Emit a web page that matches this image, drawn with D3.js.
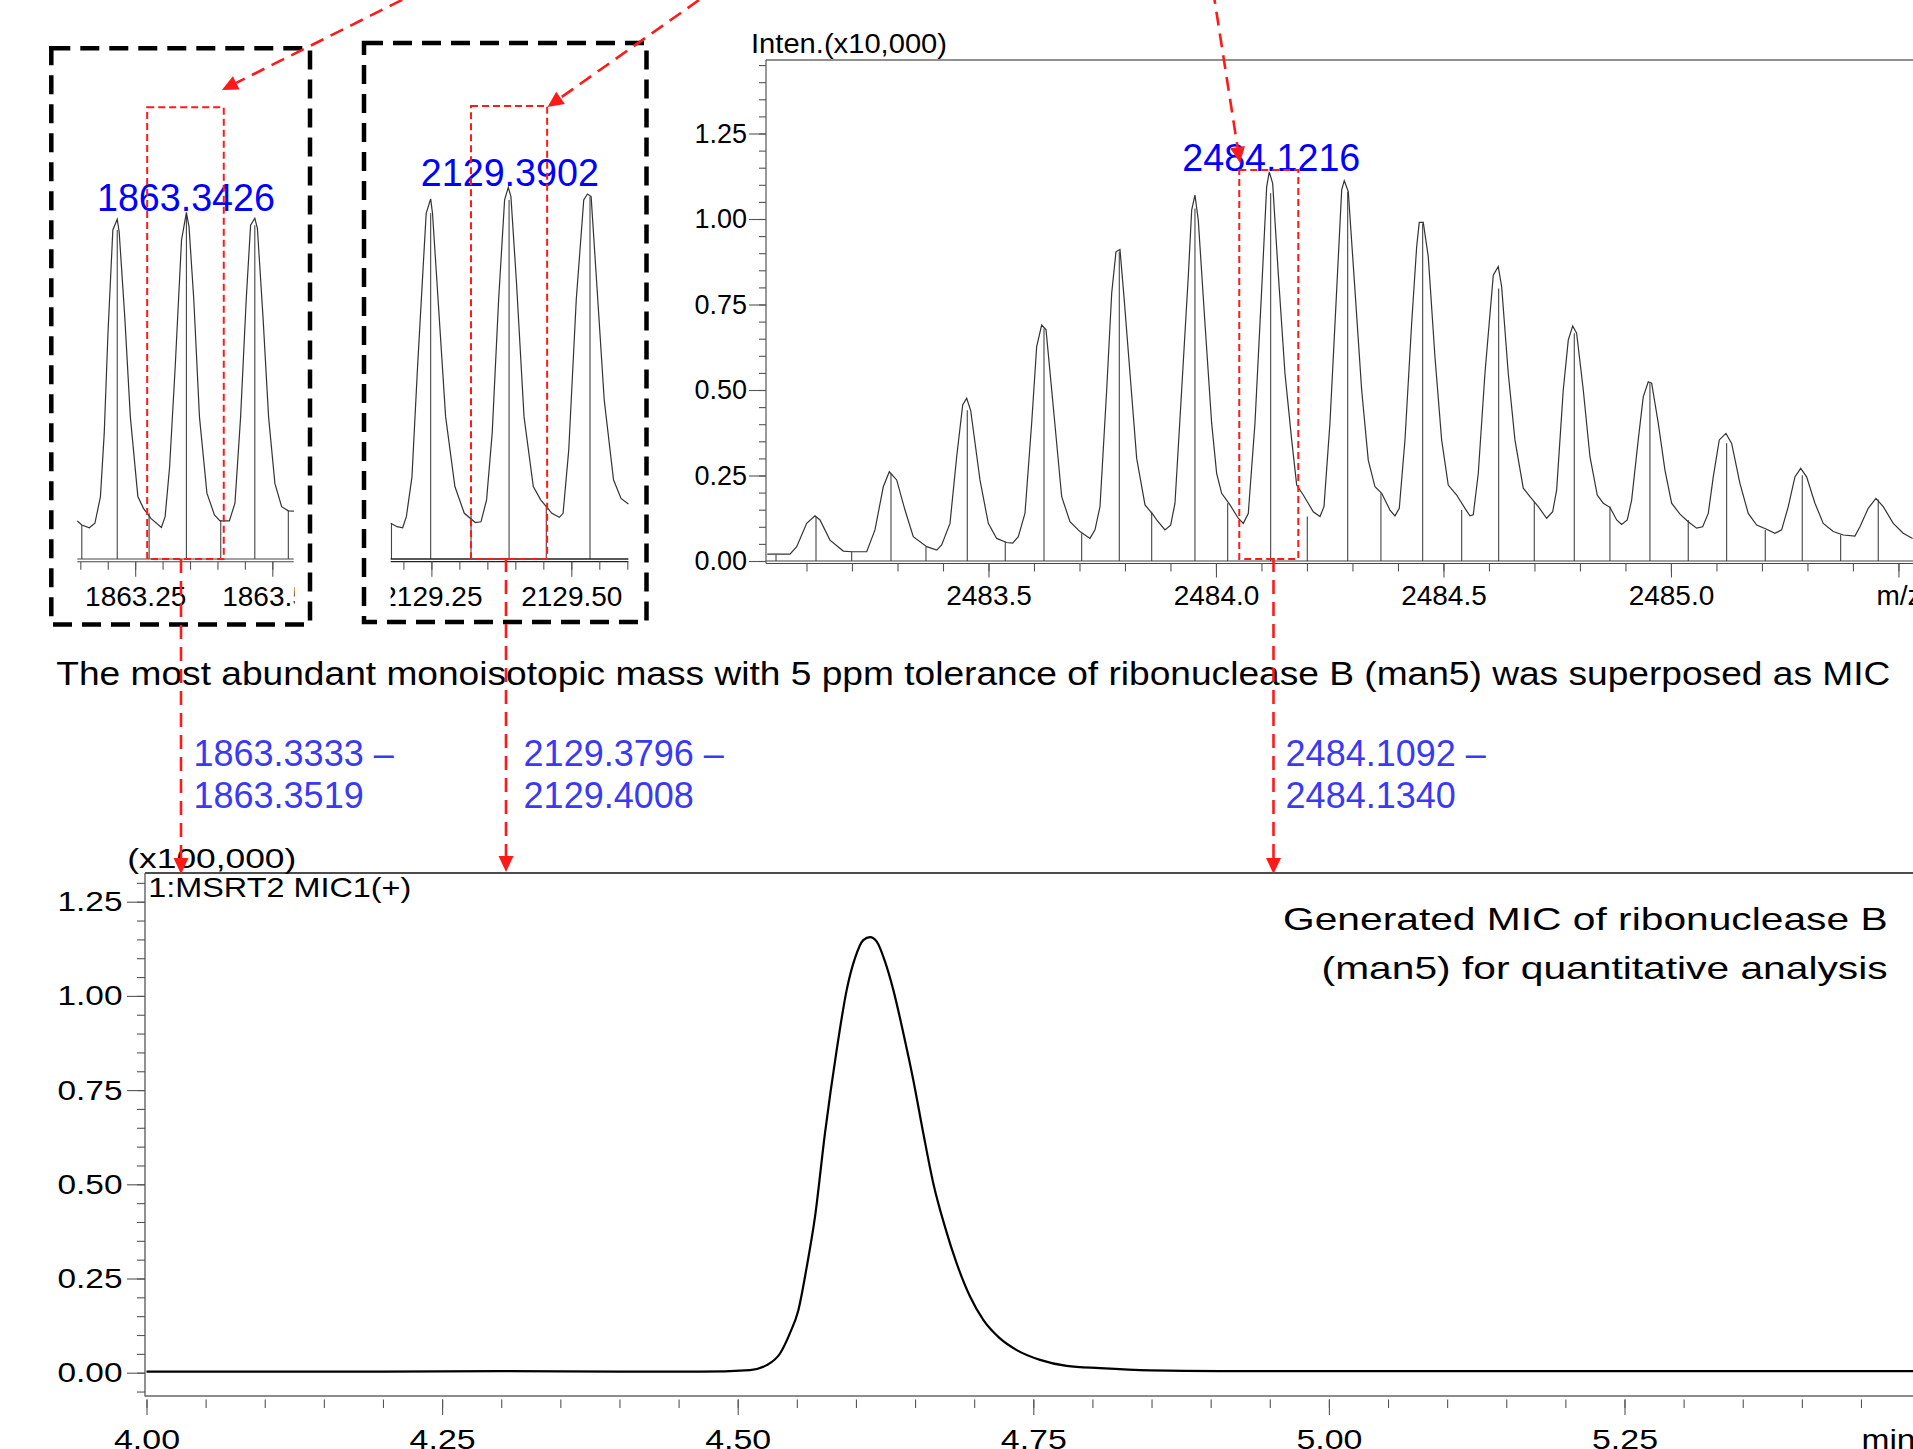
<!DOCTYPE html>
<html>
<head>
<meta charset="utf-8">
<script src="https://cdn.jsdelivr.net/npm/d3@7"></script>
<style>
  body { margin: 0; background: #fff; overflow: hidden; }
  svg { display: block; }
</style>
</head>
<body>
<div id="container"></div>
<script>
/* DATA */
// panel A : m/z 1863 region, relative intensity (%)
const profileA = [[1863.1445,11.0],[1863.1527,9.8],[1863.1664,9.0],[1863.1766,10.3],[1863.1867,18.0],[1863.1936,36.3],[1863.2004,65.1],[1863.2093,94.9],[1863.2173,98.0],[1863.2208,94.4],[1863.2310,69.9],[1863.2412,41.0],[1863.2549,18.0],[1863.2651,14.6],[1863.2786,11.7],[1863.2978,9.1],[1863.3046,12.2],[1863.3128,26.6],[1863.3230,55.5],[1863.3345,92.0],[1863.3434,100],[1863.3482,95.8],[1863.3569,74.7],[1863.3672,41.0],[1863.3808,19.0],[1863.3945,12.7],[1863.4047,11.0],[1863.4217,11.0],[1863.4319,16.1],[1863.4422,41.0],[1863.4524,74.7],[1863.4604,96.3],[1863.4681,98.3],[1863.4728,95.4],[1863.4830,69.9],[1863.4932,41.0],[1863.5047,21.8],[1863.5170,15.1],[1863.5292,13.9],[1863.5394,13.8]];
const sticksA = [[1863.1527,9.8],[1863.2173,94.9],[1863.2754,13.2],[1863.3434,99.2],[1863.4060,11.2],[1863.4681,96.3],[1863.5292,13.9]];

// panel B : m/z 2129 region
const profileB = [[2129.1773,9.6],[2129.1887,8.7],[2129.1987,8.4],[2129.2053,11.4],[2129.2153,22.1],[2129.2253,51.7],[2129.2353,78.6],[2129.2407,93.0],[2129.2487,96.9],[2129.2520,93.0],[2129.2620,69.7],[2129.2754,38.3],[2129.2920,19.5],[2129.3088,12.3],[2129.3286,9.8],[2129.3386,10.0],[2129.3486,15.9],[2129.3586,33.8],[2129.3701,69.7],[2129.3808,96.6],[2129.3874,100],[2129.3921,97.5],[2129.4021,74.2],[2129.4155,38.3],[2129.4321,19.5],[2129.4453,15.9],[2129.4653,12.3],[2129.4787,11.2],[2129.4853,12.3],[2129.4954,29.3],[2129.5088,69.7],[2129.5222,96.6],[2129.5288,98.2],[2129.5354,97.5],[2129.5454,74.2],[2129.5588,42.8],[2129.5754,21.3],[2129.5888,16.3],[2129.6020,14.8]];
const sticksB = [[2129.1787,9.6],[2129.2487,93.0],[2129.3208,11.8],[2129.3888,96.6],[2129.4553,14.5],[2129.5334,97.5]];

// panel C : m/z 2484 region, Inten. (x10,000)
const profileC = [[2483.0138,0.020],[2483.0637,0.020],[2483.0785,0.042],[2483.1004,0.110],[2483.1187,0.132],[2483.1297,0.120],[2483.1516,0.061],[2483.1809,0.029],[2483.1993,0.027],[2483.2323,0.027],[2483.2505,0.091],[2483.2688,0.217],[2483.2820,0.261],[2483.2982,0.237],[2483.3165,0.149],[2483.3347,0.071],[2483.3642,0.042],[2483.3862,0.032],[2483.3971,0.047],[2483.4154,0.110],[2483.4301,0.305],[2483.4433,0.456],[2483.4521,0.476],[2483.4609,0.440],[2483.4813,0.237],[2483.4996,0.110],[2483.5180,0.066],[2483.5400,0.054],[2483.5532,0.052],[2483.5655,0.071],[2483.5802,0.139],[2483.5949,0.403],[2483.6059,0.627],[2483.6169,0.690],[2483.6264,0.677],[2483.6424,0.451],[2483.6609,0.188],[2483.6791,0.115],[2483.7011,0.086],[2483.7231,0.066],[2483.7341,0.091],[2483.7451,0.159],[2483.7598,0.500],[2483.7708,0.783],[2483.7802,0.904],[2483.7890,0.911],[2483.7978,0.773],[2483.8110,0.549],[2483.8257,0.300],[2483.8440,0.164],[2483.8622,0.135],[2483.8697,0.120],[2483.8879,0.091],[2483.9004,0.105],[2483.9099,0.169],[2483.9246,0.500],[2483.9391,0.831],[2483.9466,1.026],[2483.9538,1.070],[2483.9611,0.997],[2483.9758,0.695],[2483.9905,0.403],[2484.0015,0.256],[2484.0125,0.198],[2484.0308,0.164],[2484.0490,0.125],[2484.0600,0.110],[2484.0710,0.139],[2484.0857,0.403],[2484.1004,0.792],[2484.1114,1.094],[2484.1171,1.138],[2484.1246,1.104],[2484.1369,0.841],[2484.1516,0.549],[2484.1664,0.354],[2484.1774,0.222],[2484.1919,0.193],[2484.2138,0.144],[2484.2286,0.130],[2484.2374,0.159],[2484.2505,0.403],[2484.2653,0.792],[2484.2763,1.085],[2484.2820,1.112],[2484.2908,1.080],[2484.3055,0.792],[2484.3202,0.500],[2484.3347,0.295],[2484.3495,0.217],[2484.3642,0.198],[2484.3824,0.149],[2484.3934,0.132],[2484.4029,0.154],[2484.4154,0.354],[2484.4301,0.695],[2484.4411,0.919],[2484.4468,0.990],[2484.4556,0.990],[2484.4666,0.890],[2484.4813,0.597],[2484.4960,0.354],[2484.5105,0.222],[2484.5290,0.193],[2484.5473,0.154],[2484.5582,0.132],[2484.5655,0.135],[2484.5765,0.256],[2484.5912,0.549],[2484.6095,0.836],[2484.6204,0.861],[2484.6279,0.802],[2484.6424,0.549],[2484.6571,0.354],[2484.6754,0.213],[2484.6901,0.188],[2484.7084,0.159],[2484.7268,0.125],[2484.7400,0.144],[2484.7488,0.208],[2484.7633,0.500],[2484.7743,0.646],[2484.7840,0.687],[2484.7927,0.666],[2484.8073,0.500],[2484.8220,0.305],[2484.8380,0.193],[2484.8512,0.169],[2484.8659,0.157],[2484.8807,0.120],[2484.8916,0.107],[2484.9040,0.120],[2484.9136,0.178],[2484.9281,0.354],[2484.9391,0.480],[2484.9501,0.524],[2484.9576,0.520],[2484.9721,0.403],[2484.9868,0.266],[2485.0015,0.169],[2485.0198,0.137],[2485.0380,0.115],[2485.0565,0.096],[2485.0697,0.100],[2485.0820,0.139],[2485.0930,0.246],[2485.1062,0.354],[2485.1209,0.373],[2485.1334,0.344],[2485.1516,0.227],[2485.1699,0.139],[2485.1884,0.105],[2485.2103,0.093],[2485.2286,0.081],[2485.2433,0.091],[2485.2578,0.159],[2485.2725,0.246],[2485.2851,0.271],[2485.2982,0.246],[2485.3165,0.169],[2485.3347,0.110],[2485.3567,0.086],[2485.3787,0.076],[2485.4044,0.073],[2485.4154,0.100],[2485.4336,0.154],[2485.4505,0.183],[2485.4666,0.159],[2485.4886,0.110],[2485.5105,0.081],[2485.5312,0.066]];
const sticksC = [[2483.0330,0.018],[2483.1209,0.130],[2483.1993,0.027],[2483.2857,0.256],[2483.3626,0.042],[2483.4534,0.441],[2483.5369,0.056],[2483.6220,0.680],[2483.7048,0.081],[2483.7875,0.904],[2483.8587,0.144],[2483.9538,1.031],[2484.0257,0.169],[2484.1202,1.075],[2484.2007,0.130],[2484.2895,1.080],[2484.3626,0.198],[2484.4543,0.987],[2484.5400,0.149],[2484.6213,0.797],[2484.6996,0.173],[2484.7875,0.666],[2484.8659,0.159],[2484.9538,0.520],[2485.0380,0.120],[2485.1224,0.344],[2485.2073,0.091],[2485.2886,0.251],[2485.3730,0.076],[2485.4556,0.180]];

// generated MIC chromatogram : time (min), intensity (x100,000)
const micTrace = [[4.00,0.003],[4.10,0.003],[4.20,0.003],[4.30,0.004],[4.40,0.003],[4.4681,0.003],[4.5104,0.007],[4.5245,0.020],[4.5358,0.051],[4.5442,0.105],[4.5513,0.166],[4.5584,0.281],[4.5654,0.414],[4.5738,0.635],[4.5837,0.856],[4.5922,1.016],[4.5992,1.100],[4.6062,1.148],[4.6119,1.156],[4.6176,1.144],[4.6246,1.091],[4.6316,1.016],[4.6401,0.901],[4.6485,0.777],[4.6570,0.635],[4.6654,0.503],[4.6753,0.387],[4.6852,0.290],[4.6965,0.202],[4.7077,0.140],[4.7218,0.091],[4.7360,0.060],[4.7557,0.034],[4.7782,0.018],[4.8064,0.012],[4.8487,0.006],[4.9079,0.004],[5.00,0.004],[5.25,0.004],[5.50,0.004]];

// labels
const peakLabels = [1863.3426, 2129.3902, 2484.1216];
const rangeLabels = [["1863.3333 –", "1863.3519"], ["2129.3796 –", "2129.4008"], ["2484.1092 –", "2484.1340"]];
const ticksA = [1863.25, 1863.50];
const ticksB = [2129.25, 2129.50];
const ticksC = [2483.5, 2484.0, 2484.5, 2485.0, 2485.5];
const tickLabelsC = ["2483.5", "2484.0", "2484.5", "2485.0", "m/z"];
const yTicksC = [0, 0.25, 0.50, 0.75, 1.00, 1.25];
const xTicksMic = [4.00, 4.25, 4.50, 4.75, 5.00, 5.25];
const yTicksMic = [0, 0.25, 0.50, 0.75, 1.00, 1.25];

/* CONSTANTS */
const width = 1913;
const height = 1449;
const FONT = '"Liberation Sans", Arial, Helvetica, sans-serif';
const RED = "#ff1a1a";

const svg = d3.select("#container")
  .append("svg")
  .attr("width", width)
  .attr("height", height)
  .attr("font-family", FONT);

/* SCALES */
const xA = d3.scaleLinear().domain([1863.1445, 1863.539]).range([77.3, 293.7]);
const yA = d3.scaleLinear().domain([0, 100]).range([559, 212.3]);
const xB = d3.scaleLinear().domain([2129.1773, 2129.602]).range([390.7, 628.4]);
const yB = d3.scaleLinear().domain([0, 100]).range([559, 187.3]);
const xC = d3.scaleLinear().domain([2483.011, 2485.532]).range([766, 1913]);
const yC = d3.scaleLinear().domain([0, 1.25]).range([561, 133.5]);
const xM = d3.scaleLinear().domain([4, 5.5]).range([146.5, 1920.1]);
const yM = d3.scaleLinear().domain([0, 1.25]).range([1372.7, 901.7]);

// axis helper: minor + major ticks drawn by two d3 axes
function bottomAxis(scale, y, major, minor, fmt, o) {
  const gMin = svg.append("g").attr("transform", `translate(0,${y})`)
    .call(d3.axisBottom(scale).tickValues(minor).tickSize(o.minor).tickFormat(""));
  const gMaj = svg.append("g").attr("transform", `translate(0,${y})`)
    .call(d3.axisBottom(scale).tickValues(major).tickSize(o.major).tickPadding(o.pad).tickFormat(fmt));
  [gMin, gMaj].forEach(g => {
    g.select(".domain").remove();
    g.selectAll("line").attr("stroke", "#555").attr("stroke-width", 1.1);
  });
  gMaj.attr("font-size", o.size).attr("font-family", FONT);
  gMaj.selectAll("text").attr("fill", "#000");
  if (o.clip) gMaj.attr("clip-path", `url(#${o.clip})`);
  return gMaj;
}

function leftAxis(scale, x, major, minor, fmt, o) {
  const gMin = svg.append("g").attr("transform", `translate(${x},0)`)
    .call(d3.axisLeft(scale).tickValues(minor).tickSize(o.minor).tickFormat(""));
  const gMaj = svg.append("g").attr("transform", `translate(${x},0)`)
    .call(d3.axisLeft(scale).tickValues(major).tickSize(o.major).tickPadding(o.pad).tickFormat(fmt));
  [gMin, gMaj].forEach(g => {
    g.select(".domain").remove();
    g.selectAll("line").attr("stroke", "#555").attr("stroke-width", 1.1);
  });
  gMaj.attr("font-size", o.size).attr("font-family", FONT);
  gMaj.selectAll("text").attr("fill", "#000");
  return gMaj;
}

function hline(x1, x2, y, color, w) {
  svg.append("line").attr("x1", x1).attr("x2", x2).attr("y1", y).attr("y2", y)
    .attr("stroke", color).attr("stroke-width", w);
}
function vline(x, y1, y2, color, w) {
  svg.append("line").attr("x1", x).attr("x2", x).attr("y1", y1).attr("y2", y2)
    .attr("stroke", color).attr("stroke-width", w);
}

// clip paths for the small panels' tick labels (in the axis group's own coordinates)
const defs = svg.append("defs");
defs.append("clipPath").attr("id", "clipA").append("rect")
  .attr("x", xA.range()[0]).attr("y", -30).attr("width", xA.range()[1] - xA.range()[0] + 1).attr("height", 90);
defs.append("clipPath").attr("id", "clipB").append("rect")
  .attr("x", xB.range()[0]).attr("y", -30).attr("width", xB.range()[1] - xB.range()[0]).attr("height", 90);

/* SPECTRUM PANELS */
function spectrum(profile, sticks, x, y) {
  svg.append("g").selectAll("line")
    .data(sticks)
    .join("line")
    .attr("x1", d => x(d[0])).attr("x2", d => x(d[0]))
    .attr("y1", y(0)).attr("y2", d => y(d[1]))
    .attr("stroke", "#444").attr("stroke-width", 1.1);

  svg.append("path")
    .datum(profile)
    .attr("fill", "none")
    .attr("stroke", "#333")
    .attr("stroke-width", 1.2)
    .attr("d", d3.line().x(d => x(d[0])).y(d => y(d[1])));
}

// panel A
spectrum(profileA, sticksA, xA, yA);
hline(xA.range()[0], xA.range()[1], yA(0), "#444", 1.1);
hline(xA.range()[0], xA.range()[1], 561.7, "#444", 1.1);
bottomAxis(xA, 561.7, ticksA, d3.range(1863.15, 1863.52, 0.05), d3.format(".2f"),
  { minor: 8, major: 15, pad: 9, size: 28, clip: "clipA" });

// panel B
spectrum(profileB, sticksB, xB, yB);
hline(xB.range()[0], xB.range()[1], yB(0), "#222", 1.3);
hline(xB.range()[0], xB.range()[1], 561.7, "#222", 1.3);
bottomAxis(xB, 561.7, ticksB, d3.range(2129.20, 2129.62, 0.05), d3.format(".2f"),
  { minor: 8, major: 15, pad: 9, size: 28, clip: "clipB" });

// panel C
spectrum(profileC, sticksC, xC, yC);
hline(766, 1913, yC(0), "#444", 1.1);
hline(766, 1913, 563.5, "#444", 1.1);
hline(766, 1913, 60, "#222", 1.2);
vline(766, 60, 563.5, "#555", 1.2);
bottomAxis(xC, 563.5, ticksC, d3.range(2483.1, 2485.55, 0.1), (d, i) => tickLabelsC[i],
  { minor: 8, major: 14, pad: 8, size: 28 });
leftAxis(yC, 766, yTicksC, d3.range(0, 1.47, 0.05), d3.format(".2f"),
  { minor: 7, major: 17, pad: 2, size: 27 });
svg.append("text")
  .attr("x", 751).attr("y", 53)
  .attr("font-size", 27)
  .attr("textLength", 196).attr("lengthAdjust", "spacingAndGlyphs")
  .text("Inten.(x10,000)");

/* MIC PANEL */
hline(145, 1913, 873, "#111", 1.3);
vline(145, 873, 1396.5, "#555", 1.3);
hline(145, 1913, 1396, "#666", 1.3);

bottomAxis(xM, 1399.5, xTicksMic, d3.range(4.0, 5.47, 0.05), d3.format(".2f"),
  { minor: 8.5, major: 15.5, pad: 14, size: 28 })
  .selectAll("text").attr("textLength", 66).attr("lengthAdjust", "spacingAndGlyphs");
leftAxis(yM, 145, yTicksMic, d3.range(-0.05, 1.31, 0.05), d3.format(".2f"),
  { minor: 8, major: 18, pad: 4.5, size: 28 })
  .selectAll("text").attr("textLength", 65).attr("lengthAdjust", "spacingAndGlyphs");

svg.append("text")
  .attr("x", 1861.5).attr("y", 1449)
  .attr("font-size", 28)
  .attr("textLength", 54).attr("lengthAdjust", "spacingAndGlyphs")
  .text("min");

svg.append("path")
  .datum(micTrace)
  .attr("fill", "none")
  .attr("stroke", "#000")
  .attr("stroke-width", 2.2)
  .attr("d", d3.line().curve(d3.curveMonotoneX).x(d => xM(d[0])).y(d => yM(d[1])));

svg.append("text")
  .attr("x", 127.3).attr("y", 867.5)
  .attr("font-size", 28)
  .attr("textLength", 169).attr("lengthAdjust", "spacingAndGlyphs")
  .text("(x100,000)");
svg.append("text")
  .attr("x", 148.3).attr("y", 896.7)
  .attr("font-size", 28)
  .attr("textLength", 263).attr("lengthAdjust", "spacingAndGlyphs")
  .text("1:MSRT2 MIC1(+)");

svg.append("text")
  .attr("x", 1283).attr("y", 929.8)
  .attr("font-size", 32)
  .attr("textLength", 604.6).attr("lengthAdjust", "spacingAndGlyphs")
  .text("Generated MIC of ribonuclease B");
svg.append("text")
  .attr("x", 1321.6).attr("y", 978.8)
  .attr("font-size", 32)
  .attr("textLength", 566).attr("lengthAdjust", "spacingAndGlyphs")
  .text("(man5) for quantitative analysis");

/* TEXT */
svg.append("text")
  .attr("x", 56.3).attr("y", 685)
  .attr("font-size", 34)
  .attr("textLength", 1834).attr("lengthAdjust", "spacingAndGlyphs")
  .text("The most abundant monoisotopic mass with 5 ppm tolerance of ribonuclease B (man5) was superposed as MIC");

// peak labels (blue) sit on top of the labelled peak
const labelScales = [[xA, yA, 100], [xB, yB, 100], [xC, yC, 1.138]];
svg.append("g").selectAll("text")
  .data(peakLabels)
  .join("text")
  .attr("x", (d, i) => labelScales[i][0](d))
  .attr("y", (d, i) => labelScales[i][1](labelScales[i][2]) - 1)
  .attr("text-anchor", "middle")
  .attr("font-size", 38)
  .attr("fill", "#0000ff")
  .attr("textLength", 178).attr("lengthAdjust", "spacingAndGlyphs")
  .text(d => d.toFixed(4));

// tolerance windows
const rangeX = [193.5, 523.6, 1285.6];
rangeLabels.forEach((lines, i) => {
  lines.forEach((t, j) => {
    svg.append("text")
      .attr("x", rangeX[i]).attr("y", 766 + j * 42)
      .attr("font-size", 36)
      .attr("fill", "#3a3af2")
      .text(t);
  });
});

/* ANNOTATIONS */
// black dashed frames around the two small panels
[[51.3, 48.2, 310, 624.5], [364, 43, 646.5, 622]].forEach(b => {
  svg.append("rect")
    .attr("x", b[0]).attr("y", b[1]).attr("width", b[2] - b[0]).attr("height", b[3] - b[1])
    .attr("fill", "none").attr("stroke", "#000").attr("stroke-width", 4.5)
    .attr("stroke-dasharray", "19,10");
});

// red dashed windows around the chosen isotope peaks
const windows = [
  [xA(1863.2719), yA(130.3), xA(1863.4115), yA(0)],
  [xB(2129.3208), yB(121.9), xB(2129.4568), yB(0)],
  [xC(2484.0512), yC(1.143), xC(2484.1809), yC(0) - 2]
];
windows.forEach(w => {
  svg.append("rect")
    .attr("x", w[0]).attr("y", w[1]).attr("width", w[2] - w[0]).attr("height", w[3] - w[1])
    .attr("fill", "none").attr("stroke", RED).attr("stroke-width", 2)
    .attr("stroke-dasharray", "7,4");
});

// red dashed arrows
const arrows = [
  [[421.8, -10], [221.9, 90]],
  [[699, 0], [547.5, 107]],
  [[1213, -10], [1240, 163]],
  [[181, 559], [181, 874]],
  [[506, 558], [506, 872]],
  [[1273.5, 558], [1273.5, 874]]
];
arrows.forEach(([p0, p1]) => {
  const dx = p1[0] - p0[0], dy = p1[1] - p0[1];
  const len = Math.hypot(dx, dy), ux = dx / len, uy = dy / len;
  const hl = 16, hw = 7.5;
  const bx = p1[0] - ux * hl, by = p1[1] - uy * hl;
  svg.append("line")
    .attr("x1", p0[0]).attr("y1", p0[1]).attr("x2", bx).attr("y2", by)
    .attr("stroke", RED).attr("stroke-width", 2.6)
    .attr("stroke-dasharray", "14,8");
  svg.append("path")
    .attr("d", `M${p1[0]},${p1[1]}L${bx - uy * hw},${by + ux * hw}L${bx + uy * hw},${by - ux * hw}Z`)
    .attr("fill", RED);
});
</script>
</body>
</html>
